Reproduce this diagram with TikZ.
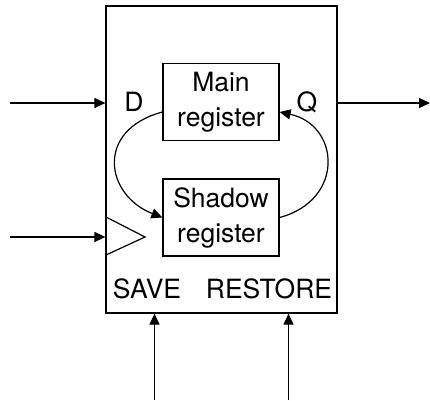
\documentclass[tikz,border=0pt]{standalone}
\usepackage{fontspec}
\setmainfont{TeX Gyre Heros}
\usetikzlibrary{arrows.meta}
\begin{document}
\begin{tikzpicture}[x=1pt,y=-1pt,
  line width=1.2pt,
  every node/.style={font=\fontsize{26.5}{35}\selectfont, inner sep=0pt},
  reg/.style={draw, minimum width=116pt, minimum height=77pt, align=center},
  chipbox/.style={draw, minimum width=231pt, minimum height=307pt},
  arr/.style={-{Triangle[length=11pt,width=10pt]}},
  lbl/.style={anchor=base}]
\useasboundingbox (0,0) rectangle (430,400);
\node[chipbox] (chip) at (221.5,159.5) {};
\node[reg] (main) at (221,102) {Main\\register};
\node[reg] (shadow) at (221,217.5) {Shadow\\register};
\node[lbl] (d) at (134,111) {D};
\node[lbl] (q) at (307,111) {Q};
\node[lbl] (save) at (147,298) {SAVE};
\node[lbl] (restore) at (269,298) {RESTORE};
\coordinate (din) at (10,103);
\coordinate (clkin) at (10,237);
\coordinate (qout) at (430,103);
\coordinate (savein) at (154.5,400);
\coordinate (restin) at (288.5,400);
\draw[arr] (din) -- (din -| chip.west);
\draw[arr] (clkin) -- (clkin -| chip.west);
\draw[arr] (din -| chip.east) -- (qout);
\draw[arr] (savein) -- (savein |- chip.south);
\draw[arr] (restin) -- (restin |- chip.south);
\draw (106,217) -- (145,237) -- (106,255);
\draw[arr] ([yshift=-10pt]main.west) .. controls (95,130) and (105,195) .. (shadow.west);
\draw[arr] (shadow.east) .. controls (345,200) and (340,125) .. ([yshift=-10pt]main.east);
\end{tikzpicture}
\end{document}
